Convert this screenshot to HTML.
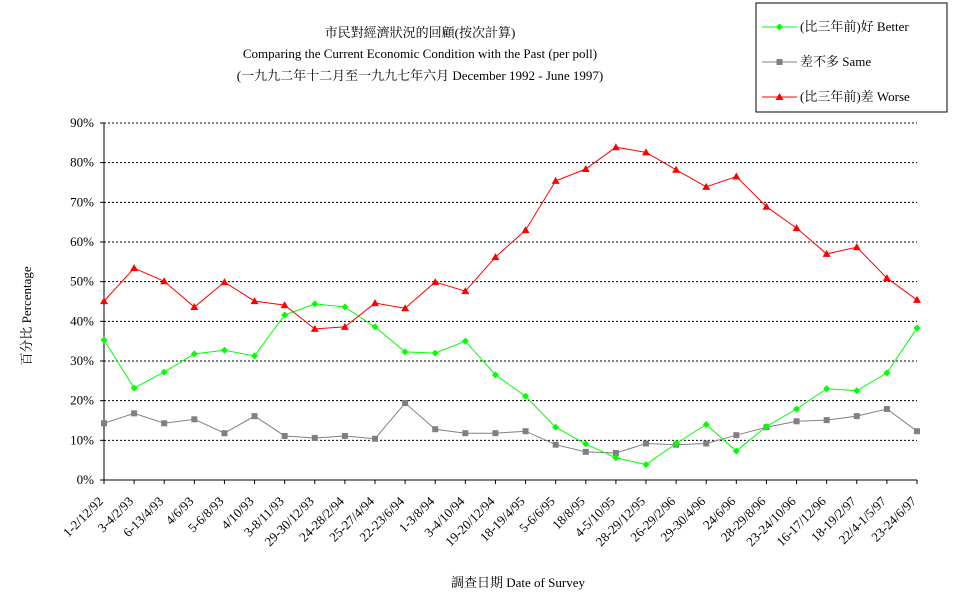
<!DOCTYPE html>
<html><head><meta charset="utf-8"><style>
body{margin:0;background:#fff}
svg{display:block;font-family:"Liberation Serif","Noto Serif CJK SC","Noto Sans CJK SC",serif}
</style></head><body>
<svg id="c" width="975" height="599">
<g font-size="13" text-anchor="middle">
<text x="420" y="37">市民對經濟狀況的回顧(按次計算)</text>
<text x="420" y="58">Comparing the Current Economic Condition with the Past  (per poll)</text>
<text x="420" y="80">(一九九二年十二月至一九九七年六月 December 1992 - June 1997)</text>
</g>
<g id="grid"></g>
<g id="axes"></g>
<g id="series"></g>
<text font-size="13" transform="translate(31,316) rotate(-90)" text-anchor="middle">百分比 Percentage</text>
<text font-size="13" x="518" y="587" text-anchor="middle">調查日期 Date of Survey</text>
<g>
<rect x="756" y="3" width="191" height="109" fill="#fff" stroke="#000"/>
<g><line x1="762" y1="27" x2="797" y2="27" stroke="#00ff00"/><path d="M779.5 23.5l3.5 3.5l-3.5 3.5l-3.5-3.5z" fill="#00ff00"/><text x="800" y="31" font-size="13">(比三年前)好 Better</text></g>
<g><line x1="762" y1="62" x2="797" y2="62" stroke="#808080"/><rect x="776.5" y="59" width="6" height="6" fill="#808080"/><text x="800" y="66" font-size="13">差不多 Same</text></g>
<g><line x1="762" y1="97" x2="797" y2="97" stroke="#ff0000"/><path d="M779.5 93l4 7h-8z" fill="#ff0000"/><text x="800" y="101" font-size="13">(比三年前)差 Worse</text></g>
</g>
</svg>
<script>
const categories=["1-2/12/92","3-4/2/93","6-13/4/93","4/6/93","5-6/8/93","4/10/93","3-8/11/93","29-30/12/93","24-28/2/94","25-27/4/94","22-23/6/94","1-3/8/94","3-4/10/94","19-20/12/94","18-19/4/95","5-6/6/95","18/8/95","4-5/10/95","28-29/12/95","26-29/2/96","29-30/4/96","24/6/96","28-29/8/96","23-24/10/96","16-17/12/96","18-19/2/97","22/4-1/5/97","23-24/6/97"];
const better=[35.3,23.2,27.2,31.8,32.7,31.3,41.6,44.4,43.6,38.6,32.3,32.0,35.0,26.5,21.1,13.3,9.1,5.6,3.9,9.2,14.0,7.3,13.5,17.9,23.0,22.5,27.0,38.3];
const same=[14.3,16.8,14.3,15.3,11.8,16.1,11.1,10.6,11.1,10.4,19.4,12.8,11.8,11.8,12.3,8.9,7.1,6.8,9.2,8.9,9.2,11.3,13.3,14.8,15.1,16.1,17.9,12.3];
const worse=[45.1,53.4,50.1,43.6,49.9,45.1,44.1,38.1,38.6,44.6,43.3,49.9,47.6,56.2,63.0,75.4,78.4,83.9,82.6,78.2,73.9,76.5,68.9,63.5,57.0,58.7,50.9,45.4];
const yTicks=[0,10,20,30,40,50,60,70,80,90];
const NS="http://www.w3.org/2000/svg";
const X0=104,X1=917,Y0=480,Y1=123;
const xs=i=>X0+(X1-X0)*i/(categories.length-1);
const ys=v=>Y0-(Y0-Y1)*v/90;
function mk(t,a,p){const e=document.createElementNS(NS,t);for(const k in a)e.setAttribute(k,a[k]);p.appendChild(e);return e;}
const grid=document.getElementById('grid'),axes=document.getElementById('axes'),ser=document.getElementById('series');
yTicks.forEach(v=>{
 if(v>0){const g=mk('line',{x1:X0,x2:X1,y1:ys(v),y2:ys(v),stroke:'#000','stroke-dasharray':'2,2'},grid);
 
 }
 const t=mk('text',{x:94,y:ys(v)+4,'font-size':13,'text-anchor':'end'},axes);t.textContent=v+'%';
 
 
 mk('line',{x1:X0-4,x2:X0,y1:ys(v),y2:ys(v),stroke:'#000'},axes);
});
mk('line',{x1:X0,x2:X0,y1:Y1,y2:Y0,stroke:'#000'},axes);
mk('line',{x1:X0,x2:X1,y1:Y0,y2:Y0,stroke:'#000'},axes);
categories.forEach((c,i)=>{
 mk('line',{x1:xs(i),x2:xs(i),y1:Y0,y2:Y0+4,stroke:'#000'},axes);
 const t=mk('text',{'font-size':13,'text-anchor':'end',transform:`translate(${xs(i)},${Y0+22}) rotate(-45)`},axes);
 t.textContent=c;
 
 
});
function draw(arr,col,shape,name){
 const g=mk('g',{},ser);
 
 
 mk('polyline',{points:arr.map((v,i)=>xs(i)+','+ys(v)).join(' '),fill:'none',stroke:col},g);
 arr.forEach((v,i)=>{const x=xs(i),y=ys(v);let m;
  if(shape==='d')m=mk('path',{d:`M${x} ${y-3.5}l3.5 3.5l-3.5 3.5l-3.5-3.5z`,fill:col},g);
  else if(shape==='s')m=mk('rect',{x:x-3,y:y-3,width:6,height:6,fill:col},g);
  else m=mk('path',{d:`M${x} ${y-4}l4 7h-8z`,fill:col},g);
  
  
 });
}
draw(same,'#808080','s','series-same');
draw(better,'#00ff00','d','series-better');
draw(worse,'#ff0000','t','series-worse');
</script>
</body></html>
